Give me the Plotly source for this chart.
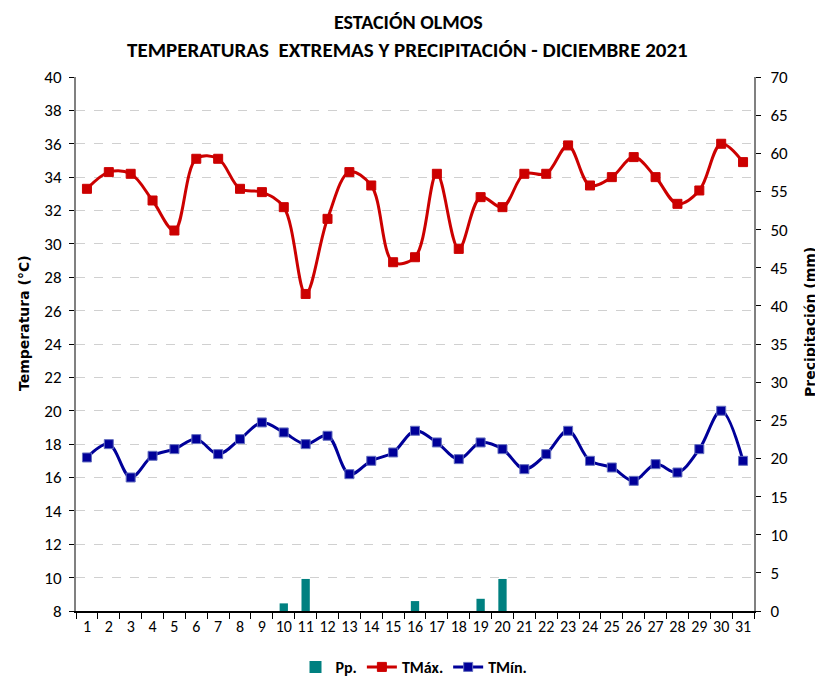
import plotly.graph_objects as go

days = [str(d) for d in range(1, 32)]
tmax = [33.3, 34.3, 34.2, 32.6, 30.8, 35.1, 35.1, 33.3, 33.1, 32.2,
        27.0, 31.5, 34.3, 33.5, 28.9, 29.2, 34.2, 29.7, 32.8, 32.2,
        34.2, 34.2, 35.9, 33.5, 34.0, 35.2, 34.0, 32.4, 33.2, 36.0, 34.9]
tmin = [17.2, 18.0, 16.0, 17.3, 17.7, 18.3, 17.4, 18.3, 19.3, 18.7,
        18.0, 18.5, 16.2, 17.0, 17.5, 18.8, 18.1, 17.1, 18.1, 17.7,
        16.5, 17.4, 18.8, 17.0, 16.6, 15.8, 16.8, 16.3, 17.7, 20.0, 17.0]
pp = [0, 0, 0, 0, 0, 0, 0, 0, 0, 1.0,
      4.2, 0, 0, 0, 0, 1.3, 0, 0, 1.6, 4.2,
      0, 0, 0, 0, 0, 0, 0, 0, 0, 0, 0]
left_ticks = list(range(8, 42, 2))
right_ticks = list(range(0, 75, 5))

FONT = "Carlito, 'Liberation Sans Narrow', 'DejaVu Sans Condensed', sans-serif"
BOLDFONT = "'DejaVu Sans', Verdana, sans-serif"

# page body has an 8px margin: figure is drawn offset by (8, 8)
OFF = 8
W, H = 823 - OFF, 681 - OFF
L, R, T, B = 76 - OFF, W - (754 - OFF), 77 - OFF, H - (611 - OFF)
pw, ph = W - L - R, H - T - B


def px(x):
    return (x - OFF - L) / pw


def py(y):
    return (H - B - (y - OFF)) / ph


fig = go.Figure()
fig.add_trace(go.Bar(x=days, y=pp, name="<b>Pp.</b>", yaxis="y2",
                     marker=dict(color="#008080", line=dict(width=0)), width=0.38))
fig.add_trace(go.Scatter(x=days, y=tmax, name="<b>TMáx.</b>", mode="lines+markers",
                         line=dict(color="#CC0000", width=3, shape="spline", smoothing=1),
                         marker=dict(symbol="square", size=9, color="#CC0000",
                                     line=dict(color="#CC0000", width=1))))
fig.add_trace(go.Scatter(x=days, y=tmin, name="<b>TMín.</b>", mode="lines+markers",
                         line=dict(color="#000099", width=3, shape="spline", smoothing=1),
                         marker=dict(symbol="square", size=9, color="#000099",
                                     line=dict(color="#6670c0", width=1))))

fig.update_layout(
    width=W, height=H,
    margin=dict(l=L, r=R, t=T, b=B, autoexpand=False),
    paper_bgcolor="white", plot_bgcolor="white",
    font=dict(family=FONT, size=16, color="black"),
    bargap=0.6,
    xaxis=dict(type="category", range=[-0.5, len(days) - 0.5], autorange=False,
               tickson="boundaries", ticks="outside", ticklen=6,
               tickcolor="black", showline=True, linecolor="black", linewidth=1.5,
               showgrid=False, tickfont=dict(size=16), tickangle=0, automargin=False),
    yaxis=dict(range=[8, 40], tickvals=left_ticks, ticks="outside", ticklen=5,
               tickcolor="black", showline=True, linecolor="#808080", linewidth=2,
               showgrid=True, gridcolor="#d0d0d0", griddash="dash", gridwidth=1,
               zeroline=False, tickfont=dict(size=17), ticklabelstandoff=4,
               automargin=False),
    yaxis2=dict(range=[0, 70], tickvals=right_ticks, overlaying="y", side="right",
                ticks="outside", ticklen=5, tickcolor="black", showline=True,
                linecolor="#808080", linewidth=2, showgrid=False, zeroline=False,
                tickfont=dict(size=17), ticklabelstandoff=6, automargin=False),
    legend=dict(orientation="h", x=px(414), xanchor="center", y=py(667), yanchor="middle",
                font=dict(size=16, family=FONT), traceorder="normal"),
    showlegend=True,
    annotations=[
        dict(text="<b>ESTACIÓN OLMOS</b>", xref="paper", yref="paper",
             x=px(408), y=py(22), xanchor="center", yanchor="middle",
             showarrow=False, font=dict(family=FONT, size=20)),
        dict(text="<b>TEMPERATURAS  EXTREMAS Y PRECIPITACIÓN - DICIEMBRE 2021</b>",
             xref="paper", yref="paper", x=px(407), y=py(50),
             xanchor="center", yanchor="middle",
             showarrow=False, font=dict(family=FONT, size=21)),
        dict(text="<b>Temperatura (°C)</b>", textangle=-90, xref="paper", yref="paper",
             x=px(24), y=py(323), xanchor="center", yanchor="middle",
             showarrow=False, font=dict(family=BOLDFONT, size=14)),
        dict(text="<b>Precipitación (mm)</b>", textangle=-90, xref="paper", yref="paper",
             x=px(810), y=py(322), xanchor="center", yanchor="middle",
             showarrow=False, font=dict(family=BOLDFONT, size=14)),
    ],
)
fig.write_html("out.html")
